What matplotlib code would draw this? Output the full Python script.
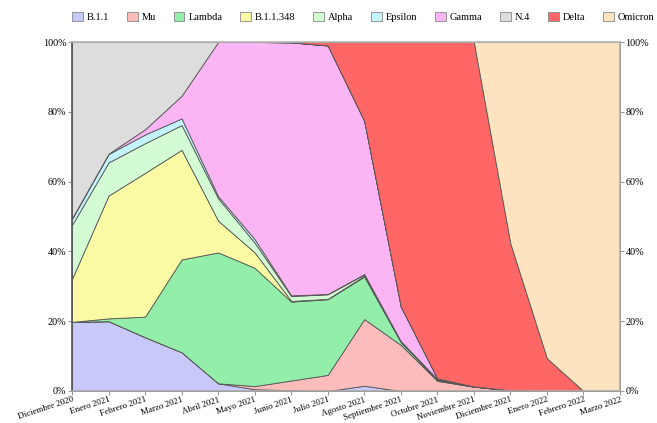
import matplotlib
matplotlib.use("Agg")
import matplotlib.pyplot as plt
from matplotlib.patches import Patch
from matplotlib.ticker import FuncFormatter

plt.rcParams['font.family'] = ['Liberation Serif', 'DejaVu Serif']

# months shown on the x axis
meses = ["Diciembre 2020", "Enero 2021", "Febrero 2021", "Marzo 2021", "Abril 2021",
         "Mayo 2021", "Junio 2021", "Julio 2021", "Agosto 2021", "Septiembre 2021",
         "Octubre 2021", "Noviembre 2021", "Diciembre 2021", "Enero 2022",
         "Febrero 2022", "Marzo 2022"]

# share of each variant (%), stacked bottom -> top
b11      = [19.8, 20.0, 15.4, 11.1, 2.2, 0.5, 0.2, 0.0, 1.5, 0.0, 0.0, 0.0, 0.0, 0.0, 0.0, 0.0]
mu       = [0.0, 0.0, 0.0, 0.0, 0.0, 0.9, 2.8, 4.6, 19.1, 13.2, 2.9, 1.2, 0.2, 0.0, 0.0, 0.0]
lambda_  = [0.0, 0.8, 5.9, 26.6, 37.5, 33.9, 22.6, 21.7, 12.2, 0.8, 0.2, 0.1, 0.0, 0.0, 0.0, 0.0]
b11348   = [12.3, 35.2, 41.2, 31.4, 9.1, 4.4, 0.2, 0.1, 0.2, 0.1, 0.1, 0.0, 0.0, 0.0, 0.0, 0.0]
alpha    = [15.5, 9.5, 8.5, 7.1, 6.4, 2.8, 1.4, 1.3, 0.4, 0.2, 0.2, 0.0, 0.0, 0.0, 0.0, 0.0]
epsilon  = [1.7, 2.4, 2.5, 1.9, 0.6, 1.0, 0.2, 0.1, 0.1, 0.0, 0.0, 0.0, 0.0, 0.0, 0.0, 0.0]
gamma    = [0.2, 0.1, 1.5, 6.5, 44.2, 56.5, 72.5, 71.2, 43.9, 9.9, 0.2, 0.0, 0.0, 0.0, 0.0, 0.0]
n4       = [50.5, 32.0, 25.0, 15.4, 0.0, 0.0, 0.0, 0.0, 0.0, 0.0, 0.0, 0.0, 0.0, 0.0, 0.0, 0.0]
delta    = [0.0, 0.0, 0.0, 0.0, 0.0, 0.0, 0.1, 1.0, 22.6, 75.8, 96.4, 98.7, 42.1, 9.4, 0.0, 0.0]
omicron  = [0.0, 0.0, 0.0, 0.0, 0.0, 0.0, 0.0, 0.0, 0.0, 0.0, 0.0, 0.0, 57.7, 90.6, 100.0, 100.0]

nombres = ["B.1.1", "Mu", "Lambda", "B.1.1.348", "Alpha", "Epsilon", "Gamma", "N.4", "Delta", "Omicron"]
colores = ["#c8c8fa", "#fcbcbc", "#93eeaa", "#fafaa4", "#d4fcd4", "#c4f4fc",
           "#fbb4f4", "#dddddd", "#ff6666", "#fde3c0"]

fig = plt.figure(figsize=(6.57, 4.23), dpi=100)
ax = fig.add_axes([0.1096, 0.0757, 0.834, 0.825])

x = list(range(len(meses)))
ax.stackplot(x, b11, mu, lambda_, b11348, alpha, epsilon, gamma, n4, delta, omicron,
             colors=colores, edgecolor="#555555", linewidth=0.6)

ax.set_xlim(0, len(meses) - 1)
ax.set_ylim(0, 100)
ax.set_xticks(x)
ax.set_xticklabels(meses, rotation=18, ha="right", va="top", rotation_mode="anchor", fontsize=6.5)
ax.set_yticks([0, 20, 40, 60, 80, 100])
ax.yaxis.set_major_formatter(FuncFormatter(lambda v, p: "%d%%" % v))
ax.tick_params(axis="y", labelsize=7.3, length=3, width=0.8, color="#999999",
               left=True, right=True, labelleft=True, labelright=True, pad=1)
ax.tick_params(axis="x", length=3, width=0.8, color="#999999", pad=0.5)

ax.spines["left"].set_color("#555555")
ax.spines["right"].set_color("#aaaaaa")
ax.spines["top"].set_color("#bbbbbb")
ax.spines["bottom"].set_color("#aaaaaa")
for s in ax.spines.values():
    s.set_linewidth(1.2)

handles = [Patch(facecolor=c, edgecolor="#888888", linewidth=0.6) for c in colores]
fig.legend(handles, nombres, loc="center", bbox_to_anchor=(0.553, 0.96), ncol=10,
           frameon=False, fontsize=7.5, handlelength=1.0, handleheight=1.0,
           handletextpad=0.4, columnspacing=1.72)

fig.savefig("out.png", dpi=100)
